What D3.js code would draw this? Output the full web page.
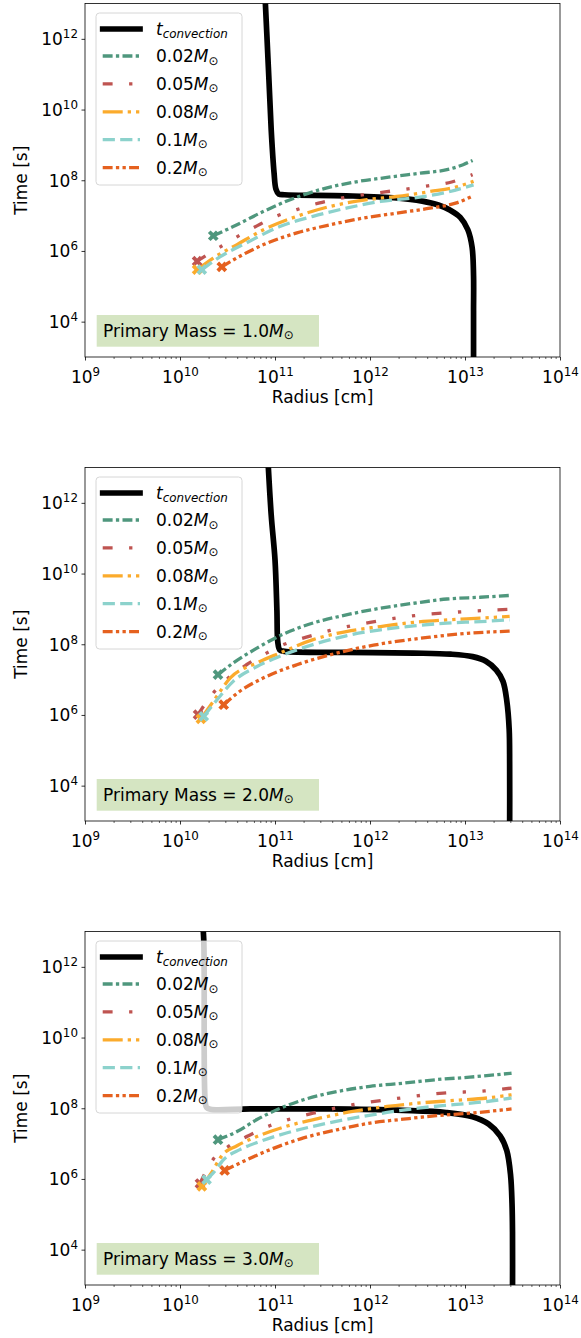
<!DOCTYPE html>
<html>
<head>
<meta charset="utf-8">
<script src="https://cdn.jsdelivr.net/npm/d3@7"></script>
<style>
  body { margin: 0; background: #fff; }
  text { font-family: "DejaVu Sans", sans-serif; }
</style>
</head>
<body>
<div id="chart"></div>
<script>
// tick values
var radiusTicks = [1e9, 1e10, 1e11, 1e12, 1e13, 1e14];
var timeTicks = [1e4, 1e6, 1e8, 1e10, 1e12];

// legend / panel labels
var companions = ["0.02", "0.05", "0.08", "0.1", "0.2"];
var primaryMasses = ["1.0", "2.0", "3.0"];

// all curves are [log10 radius (cm), log10 time (s)]
// --- primary mass 1.0 ---
var p1_tconv = [[10.89, 13.5], [10.93, 11.21], [10.96, 9.43], [10.99, 8.21], [11.01, 7.75], [11.04, 7.61],
  [11.10, 7.59], [11.75, 7.56], [12.28, 7.50], [12.55, 7.41], [12.72, 7.30], [12.84, 7.16], [12.95, 6.95],
  [13.03, 6.60], [13.075, 6.10], [13.09, 5.30], [13.09, 4.30], [13.09, 2.5]];
var p1_m002 = [[10.35, 6.43], [10.56, 6.69], [10.88, 7.12], [11.16, 7.45], [11.47, 7.73], [11.82, 7.94],
  [12.18, 8.08], [12.53, 8.20], [12.81, 8.30], [12.98, 8.44], [13.08, 8.56]];
var p1_m005 = [[10.18, 5.71], [10.42, 6.11], [10.60, 6.40], [10.81, 6.71], [11.03, 7.00], [11.23, 7.17],
  [11.47, 7.36], [11.71, 7.50], [12.16, 7.67], [12.61, 7.84], [12.86, 7.95], [13.08, 8.16]];
var p1_m008 = [[10.18, 5.47], [10.35, 5.80], [10.60, 6.18], [10.88, 6.60], [11.23, 6.98], [11.58, 7.26],
  [11.97, 7.45], [12.28, 7.54], [12.63, 7.68], [12.91, 7.81], [13.09, 7.97]];
var p1_m01 = [[10.23, 5.47], [10.42, 5.83], [10.70, 6.23], [11.05, 6.69], [11.40, 6.98], [11.75, 7.21],
  [12.11, 7.40], [12.46, 7.50], [12.81, 7.66], [13.09, 7.87]];
var p1_m02 = [[10.44, 5.55], [10.63, 5.85], [10.88, 6.18], [11.23, 6.51], [11.58, 6.74], [11.93, 6.93],
  [12.28, 7.07], [12.63, 7.21], [12.91, 7.36], [13.07, 7.54]];

// --- primary mass 2.0 ---
var p2_tconv = [[10.92, 13.5], [10.96, 11.66], [11.0, 10.39], [11.02, 8.97], [11.03, 8.05], [11.05, 7.84],
  [11.10, 7.80], [11.75, 7.77], [12.46, 7.75], [12.85, 7.72], [13.08, 7.65], [13.22, 7.52], [13.33, 7.27],
  [13.40, 6.95], [13.44, 6.40], [13.465, 5.60], [13.47, 4.60], [13.47, 2.5]];
var p2_m002 = [[10.40, 7.14], [10.56, 7.47], [10.81, 7.89], [11.05, 8.24], [11.40, 8.60], [11.75, 8.83],
  [12.11, 9.02], [12.46, 9.16], [12.81, 9.28], [13.16, 9.33], [13.47, 9.38]];
var p2_m005 = [[10.19, 6.01], [10.35, 6.62], [10.51, 7.05], [10.70, 7.42], [10.91, 7.75], [11.09, 7.99],
  [11.33, 8.20], [11.58, 8.39], [12.0, 8.62], [12.47, 8.81], [12.97, 8.92], [13.47, 8.99]];
var p2_m008 = [[10.22, 5.89], [10.35, 6.38], [10.53, 7.05], [10.81, 7.47], [11.05, 7.75], [11.40, 8.13],
  [11.75, 8.36], [12.11, 8.50], [12.46, 8.62], [12.81, 8.69], [13.16, 8.74], [13.47, 8.79]];
var p2_m01 = [[10.25, 5.96], [10.39, 6.43], [10.56, 6.95], [10.81, 7.37], [11.05, 7.66], [11.40, 7.99],
  [11.75, 8.24], [12.11, 8.41], [12.46, 8.52], [12.81, 8.60], [13.16, 8.64], [13.47, 8.69]];
var p2_m02 = [[10.46, 6.29], [10.63, 6.67], [10.88, 7.05], [11.23, 7.42], [11.58, 7.70], [11.93, 7.92],
  [12.28, 8.08], [12.63, 8.20], [12.98, 8.30], [13.47, 8.37]];

// --- primary mass 3.0 ---
var p3_tconv = [[10.23, 13.5], [10.25, 12.76], [10.265, 8.20], [10.28, 8.02], [10.32, 7.97], [10.74, 7.98],
  [11.58, 7.98], [12.35, 7.94], [12.80, 7.88], [13.08, 7.76], [13.25, 7.55], [13.37, 7.22], [13.44, 6.80],
  [13.48, 6.10], [13.495, 5.30], [13.50, 4.50], [13.50, 2.5]];
var p3_m002 = [[10.40, 7.11], [10.60, 7.34], [10.81, 7.68], [11.02, 7.96], [11.30, 8.24], [11.65, 8.47],
  [12.0, 8.62], [12.35, 8.71], [12.70, 8.81], [13.05, 8.88], [13.49, 8.99]];
var p3_m005 = [[10.21, 5.87], [10.35, 6.56], [10.51, 6.92], [10.72, 7.22], [10.95, 7.51], [11.14, 7.68],
  [11.40, 7.86], [11.82, 8.10], [12.32, 8.29], [12.77, 8.43], [13.21, 8.49], [13.49, 8.57]];
var p3_m008 = [[10.23, 5.79], [10.33, 6.17], [10.44, 6.66], [10.60, 6.94], [10.81, 7.20], [11.12, 7.49],
  [11.47, 7.72], [11.82, 7.91], [12.18, 8.05], [12.53, 8.15], [12.88, 8.22], [13.23, 8.29], [13.49, 8.38]];
var p3_m01 = [[10.28, 5.98], [10.35, 6.17], [10.46, 6.55], [10.63, 6.83], [10.84, 7.06], [11.12, 7.30],
  [11.47, 7.53], [11.82, 7.72], [12.18, 7.88], [12.53, 8.01], [12.88, 8.10], [13.23, 8.19], [13.49, 8.29]];
var p3_m02 = [[10.47, 6.24], [10.67, 6.50], [10.95, 6.83], [11.30, 7.16], [11.65, 7.39], [12.0, 7.58],
  [12.35, 7.69], [12.70, 7.79], [13.05, 7.86], [13.49, 7.98]];

var panels = [
  { mass: primaryMasses[0], tconv: p1_tconv, curves: [p1_m002, p1_m005, p1_m008, p1_m01, p1_m02] },
  { mass: primaryMasses[1], tconv: p2_tconv, curves: [p2_m002, p2_m005, p2_m008, p2_m01, p2_m02] },
  { mass: primaryMasses[2], tconv: p3_tconv, curves: [p3_m002, p3_m005, p3_m008, p3_m01, p3_m02] }
];

// styles per companion
var colors = ["#4f977d", "#bf5451", "#fbab2c", "#8cd2cc", "#e5611f"];
var dashes = ["9.9,3.3,3.3,3.3", "9.9,16.5,3.3,16.5,3.3,16.5", "20,5,3.3,5,3.3,5", "12.2,5.3", "9.9,3.3,3.3,3.3,3.3,3.3"];

var svgWidth = 581;
var svgHeight = 1338;
var left = 85;
var width = 475;
var height = 353.5;
var tops = [3.5, 467.5, 931.5];
var fs = 17;

var svg = d3.select("#chart")
  .append("svg")
  .attr("width", svgWidth)
  .attr("height", svgHeight);

var x = d3.scaleLog().domain([1e9, 1e14]).range([0, width]);
var y = d3.scaleLog().domain([1e3, 1e13]).range([height, 0]);

var line = d3.line()
  .x(d => x(Math.pow(10, d[0])))
  .y(d => y(Math.pow(10, d[1])))
  .curve(d3.curveMonotoneX);

// t_convection turns vertical, so a centripetal spline instead
var lineConv = d3.line()
  .x(d => x(Math.pow(10, d[0])))
  .y(d => y(Math.pow(10, d[1])))
  .curve(d3.curveCatmullRom.alpha(0.5));

// minor ticks 2..9 per decade
var minorX = [];
for (var e = 9; e < 14; e++) {
  for (var k = 2; k < 10; k++) minorX.push(k * Math.pow(10, e));
}

// write 10^n label with a superscript
function powLabel(sel) {
  sel.each(function(d) {
    var t = d3.select(this);
    var n = Math.round(Math.log10(d));
    t.text(null);
    t.append("tspan").text("10");
    t.append("tspan").attr("font-size", fs * 0.7).attr("dy", -7).text(n);
  });
}

panels.forEach(function(p, i) {
  var g = svg.append("g").attr("transform", `translate(${left}, ${tops[i]})`);

  g.append("clipPath").attr("id", "clip" + i)
    .append("rect").attr("width", width).attr("height", height);

  // x axis
  g.append("g")
    .attr("transform", `translate(0, ${height})`)
    .call(d3.axisBottom(x).tickValues(minorX).tickSize(2).tickSizeOuter(0).tickFormat(""))
    .call(a => a.select(".domain").remove())
    .call(a => a.selectAll("line").attr("stroke-width", 0.6));

  var xAxis = g.append("g")
    .attr("transform", `translate(0, ${height})`)
    .call(d3.axisBottom(x).tickValues(radiusTicks).tickSize(3.5).tickSizeOuter(0).tickPadding(3.5));
  xAxis.select(".domain").remove();
  xAxis.selectAll("line").attr("stroke-width", 0.8);
  xAxis.selectAll("text")
    .attr("font-size", fs)
    .attr("fill", "#000")
    .attr("dy", null)
    .attr("y", 26)
    .call(powLabel);

  // y axis
  var yAxis = g.append("g")
    .call(d3.axisLeft(y).tickValues(timeTicks).tickSize(3.5).tickSizeOuter(0).tickPadding(3.5));
  yAxis.select(".domain").remove();
  yAxis.selectAll("line").attr("stroke-width", 0.8);
  yAxis.selectAll("text")
    .attr("font-size", fs)
    .attr("fill", "#000")
    .attr("dy", 6)
    .call(powLabel);

  // axis titles
  g.append("text")
    .attr("x", width / 2)
    .attr("y", height + 46)
    .attr("text-anchor", "middle")
    .attr("font-size", fs)
    .text("Radius [cm]");

  g.append("text")
    .attr("transform", "rotate(-90)")
    .attr("x", -height / 2)
    .attr("y", 26.5 - left)
    .attr("text-anchor", "middle")
    .attr("font-size", fs)
    .text("Time [s]");

  // curves
  var plot = g.append("g").attr("clip-path", `url(#clip${i})`);

  plot.append("path")
    .attr("d", lineConv(p.tconv))
    .attr("fill", "none")
    .attr("stroke", "#000")
    .attr("stroke-width", 5.7)
    .attr("stroke-linejoin", "round");

  p.curves.forEach(function(c, j) {
    plot.append("path")
      .attr("d", line(c))
      .attr("fill", "none")
      .attr("stroke", colors[j])
      .attr("stroke-width", 3.3)
      .attr("stroke-dasharray", dashes[j]);
  });

  // start markers
  p.curves.forEach(function(c, j) {
    plot.append("path")
      .attr("d", d3.symbol().type(d3.symbolCross).size(72)())
      .attr("transform", `translate(${x(Math.pow(10, c[0][0]))}, ${y(Math.pow(10, c[0][1]))}) rotate(45)`)
      .attr("fill", colors[j]);
  });

  // frame
  g.append("rect")
    .attr("width", width)
    .attr("height", height)
    .attr("fill", "none")
    .attr("stroke", "#000")
    .attr("stroke-width", 0.8);

  // legend
  var lg = g.append("g").attr("transform", "translate(11, 9.5)");
  lg.append("rect")
    .attr("width", 146)
    .attr("height", 172)
    .attr("rx", 3.5)
    .attr("fill", "#fff")
    .attr("fill-opacity", 0.8)
    .attr("stroke", "#cccccc")
    .attr("stroke-width", 0.8);

  var rowY = 16;
  lg.append("line")
    .attr("x1", 6.7).attr("x2", 44)
    .attr("y1", rowY).attr("y2", rowY)
    .attr("stroke", "#000")
    .attr("stroke-width", 5.7)
    .attr("stroke-linecap", "square");
  var tl = lg.append("text").attr("x", 60).attr("y", rowY + 6).attr("font-size", fs);
  tl.append("tspan").attr("font-style", "italic").text("t");
  tl.append("tspan").attr("font-style", "italic").attr("font-size", fs * 0.7).attr("dy", 2.5).text("convection");

  companions.forEach(function(m, j) {
    var ry = 43 + j * 27.9;
    lg.append("line")
      .attr("x1", 6.7).attr("x2", 44)
      .attr("y1", ry).attr("y2", ry)
      .attr("stroke", colors[j])
      .attr("stroke-width", 3.3)
      .attr("stroke-dasharray", dashes[j]);
    var t = lg.append("text").attr("x", 60).attr("y", ry + 6).attr("font-size", fs);
    t.append("tspan").text(m);
    t.append("tspan").attr("font-style", "italic").text("M");
    t.append("tspan").attr("font-size", fs * 0.7).attr("dy", 2.5).text("\u2299");
  });

  // primary mass label
  g.append("rect")
    .attr("x", 11.7)
    .attr("y", 311.5)
    .attr("width", 222.3)
    .attr("height", 31.7)
    .attr("fill", "#d5e5c2");
  var pm = g.append("text").attr("x", 18).attr("y", 333.2).attr("font-size", fs);
  pm.append("tspan").text("Primary Mass = " + p.mass);
  pm.append("tspan").attr("font-style", "italic").text("M");
  pm.append("tspan").attr("font-size", fs * 0.7).attr("dy", 2.5).text("\u2299");
});
</script>
</body>
</html>
